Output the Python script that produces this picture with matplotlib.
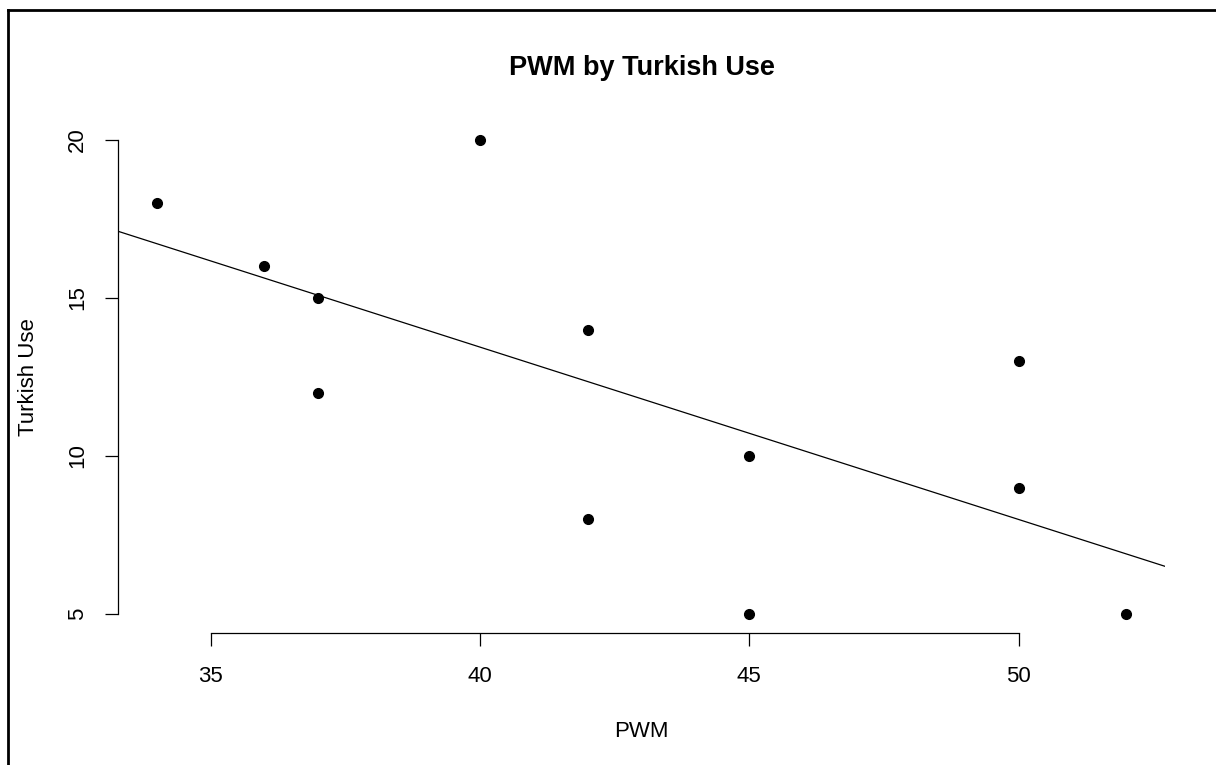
import numpy as np
import matplotlib.pyplot as plt
from matplotlib.lines import Line2D

# data
pwm = [34, 36, 37, 37, 40, 42, 42, 45, 45, 50, 50, 52]
turkish_use = [18, 16, 15, 12, 20, 14, 8, 10, 5, 13, 9, 5]
x_ticks = [35, 40, 45, 50]
y_ticks = [5, 10, 15, 20]

plt.rcParams['font.family'] = ['Liberation Sans', 'DejaVu Sans']

W, H = 1216, 765
fig = plt.figure(figsize=(W / 100, H / 100), dpi=100)
ax = fig.add_axes([118 / W, 1 - 633 / H, (1165 - 118) / W, (633 - 121) / H])

ax.plot(pwm, turkish_use, 'o', color='black', markersize=7)

# least squares line, like abline(lm(y ~ x)) in R
slope, intercept = np.polyfit(pwm, turkish_use, 1)
xmin = min(pwm) - 0.04 * (max(pwm) - min(pwm))
xmax = max(pwm) + 0.04 * (max(pwm) - min(pwm))
ymin = min(turkish_use) - 0.04 * (max(turkish_use) - min(turkish_use))
ymax = max(turkish_use) + 0.04 * (max(turkish_use) - min(turkish_use))
xs = np.array([xmin, xmax])
ax.plot(xs, intercept + slope * xs, color='black', linewidth=0.9)

ax.set_xlim(xmin, xmax)
ax.set_ylim(ymin, ymax)

# R style axes
ax.spines["top"].set_visible(False)
ax.spines["right"].set_visible(False)
ax.spines["bottom"].set_bounds(x_ticks[0], x_ticks[-1])
ax.spines["left"].set_bounds(y_ticks[0], y_ticks[-1])
ax.spines["bottom"].set_linewidth(0.9)
ax.spines["left"].set_linewidth(0.9)
ax.set_xticks(x_ticks)
ax.set_yticks(y_ticks)
ax.tick_params(direction='out', length=9.5, width=0.9, labelsize=16, pad=12)
ax.tick_params(axis='x', pad=14)
for lab in ax.get_yticklabels():
    lab.set_rotation(90)
    lab.set_va('center')

ax.set_title("PWM by Turkish Use", fontsize=19.5, fontweight='bold', pad=33)
ax.set_xlabel("PWM", fontsize=16, labelpad=25)
ax.set_ylabel("Turkish Use", fontsize=16, labelpad=20)

# outer frame (left and top edges visible)
fig.add_artist(Line2D([8 / W, 8 / W], [0, 1 - 10 / H], color='black', linewidth=2, transform=fig.transFigure))
fig.add_artist(Line2D([8 / W, 1], [1 - 10 / H, 1 - 10 / H], color='black', linewidth=2, transform=fig.transFigure))

plt.savefig("out.png", dpi=100)
